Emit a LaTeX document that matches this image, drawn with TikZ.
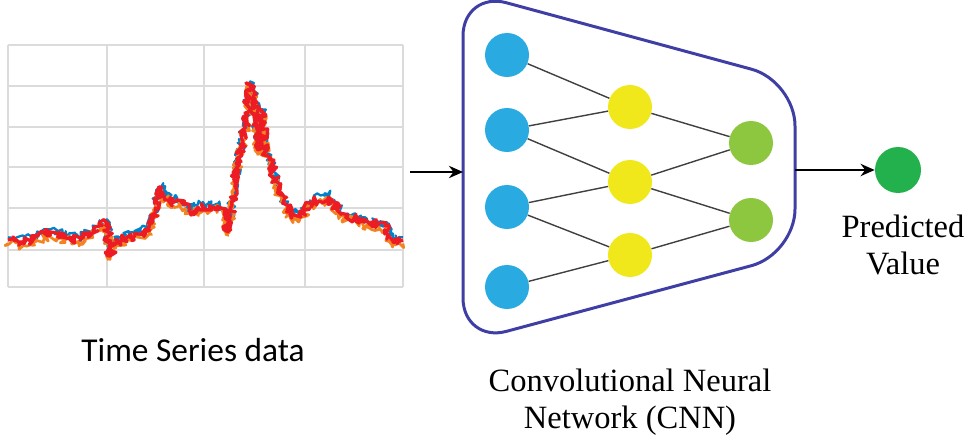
\documentclass[tikz,border=0pt]{standalone}
\usepackage{fontspec}
\setmainfont{Liberation Serif}
\newfontfamily\chartfont{Carlito}
\usetikzlibrary{arrows.meta,decorations.pathmorphing}
\definecolor{inblue}{RGB}{41,171,226}
\definecolor{hidyellow}{RGB}{240,232,26}
\definecolor{hidgreen}{RGB}{141,198,63}
\definecolor{outgreen}{RGB}{34,177,76}
\definecolor{boxblue}{RGB}{62,62,165}
\definecolor{sigred}{RGB}{237,28,36}
\definecolor{sigorange}{RGB}{245,130,32}
\definecolor{sigblue}{RGB}{0,130,200}
\begin{document}
\begin{tikzpicture}[x=0.02cm,y=-0.02cm,
    neuron/.style={circle,minimum size=0.88cm,inner sep=0pt},
    link/.style={draw=black!75,line width=0.8pt},
    flow/.style={line width=1.2pt,-{Stealth[length=8pt,width=7pt]}},
    caption/.style={font=\fontsize{18.5}{21}\selectfont,align=center}]
    \useasboundingbox (0,0) rectangle (969,438);
    % chart
    \foreach \y in {45,86,127,167,208,250,287}
        \draw [gray!28,line width=1.2pt] (8,\y) -- (403,\y);
    \foreach \x in {8,107,204,305,403}
        \draw [gray!28,line width=1.2pt] (\x,45) -- (\x,287);
    \foreach \c/\dy/\w/\s in {sigblue/1.5/1.3/11,sigorange/-2/1.5/23,sigred/0/1.9/37}{
        \pgfmathsetseed{\s}
        \draw [\c,line width=\w pt,line join=round,yshift=\dy,decorate,
            decoration={random steps,segment length=1pt,amplitude=2.6pt}]
            (8,240) -- (25,242) -- (50,232) -- (80,240) -- (100,225) -- (107,222)
            -- (110,256) -- (114,243) -- (130,237) -- (150,230) -- (155,208)
            -- (162,188) -- (168,200) -- (185,205) -- (192,212) -- (198,207)
            -- (218,206) -- (226,216) -- (228,232) -- (232,205) -- (238,160)
            -- (245,128) -- (250,84) -- (255,100) -- (258,150) -- (262,112)
            -- (265,150) -- (270,160) -- (278,190) -- (290,214) -- (300,216)
            -- (310,203) -- (328,197) -- (340,213) -- (360,220) -- (385,226)
            -- (393,242) -- (403,240);
    }
    \node [caption,font=\chartfont\fontsize{19}{21}\selectfont] (tsd) at (193,350) {Time Series data};
    \coordinate (chartout) at (410,172);
    % network box
    \draw [boxblue,line width=1.7pt,rounded corners=0.9cm]
        (463,170) -- (463,-9) -- (795,81) -- (795,254) -- (463,343) -- cycle;
    \coordinate (boxin) at (463,172);
    \coordinate (boxout) at (795,170);
    % layers
    \node [neuron,fill=inblue] (i1) at (507,55) {};
    \node [neuron,fill=inblue] (i2) at (507,130) {};
    \node [neuron,fill=inblue] (i3) at (507,207) {};
    \node [neuron,fill=inblue] (i4) at (507,287) {};
    \node [neuron,fill=hidyellow] (h1) at (630,107) {};
    \node [neuron,fill=hidyellow] (h2) at (630,182) {};
    \node [neuron,fill=hidyellow] (h3) at (630,255) {};
    \node [neuron,fill=hidgreen] (g1) at (751,143) {};
    \node [neuron,fill=hidgreen] (g2) at (751,220) {};
    \node [neuron,fill=outgreen,minimum size=0.92cm] (out) at (898,170) {};
    \foreach \a/\b in {i1/h1,i2/h1,i2/h2,i3/h2,i3/h3,i4/h3,h1/g1,h2/g1,h2/g2,h3/g2}
        \draw [link] (\a) -- (\b);
    \draw [flow] (chartout) -- (boxin);
    \draw [flow] (boxout) -- (out);
    \node [caption] (cnn) at (630,402) {Convolutional Neural\\Network (CNN)};
    \node [caption] (pv) at (903,245) {Predicted\\Value};
\end{tikzpicture}
\end{document}
